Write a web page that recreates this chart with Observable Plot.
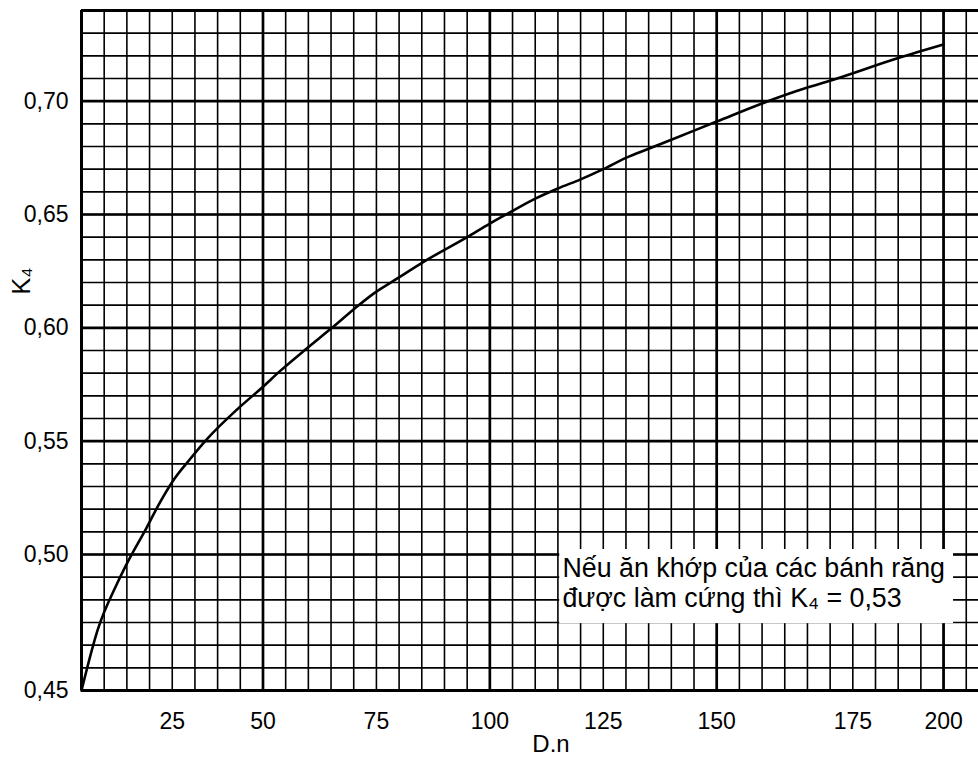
<!DOCTYPE html>
<html>
<head>
<meta charset="utf-8">
<script src="https://cdn.jsdelivr.net/npm/d3@7"></script>
<script src="https://cdn.jsdelivr.net/npm/@observablehq/plot@0.6"></script>
<style>
  html, body { margin: 0; padding: 0; background: #fff; }
  #chart { width: 978px; height: 762px; overflow: hidden; }
</style>
</head>
<body>
<div id="chart"></div>
<script>
// Curve K4 = f(D.n) (grid units: 5 per cell on x, 0.01 per cell on y)
const dn = [10, 13.6, 17.8, 20, 24.4, 27.3, 30, 33.9, 37.7, 44.3, 50, 53.8, 59.7, 65.2, 69.9, 74.3, 79.8, 85.3, 95, 100, 104.5, 110, 115, 120, 125, 130, 135, 145, 150, 160, 170, 175, 190, 200];
const k4 = [0.440, 0.467, 0.487, 0.496, 0.512, 0.523, 0.532, 0.542, 0.551, 0.564, 0.574, 0.581, 0.591, 0.600, 0.608, 0.615, 0.622, 0.629, 0.640, 0.646, 0.651, 0.657, 0.6615, 0.6655, 0.670, 0.675, 0.679, 0.687, 0.691, 0.699, 0.706, 0.709, 0.719, 0.725];

// Tick positions (on the grid) and the labels printed there
const xTickValues = [30, 50, 75, 100, 125, 150, 180, 200];
const xTickLabels = ["25", "50", "75", "100", "125", "150", "175", "200"];
const yTickValues = [0.44, 0.50, 0.55, 0.60, 0.65, 0.70];
const yTickLabels = ["0,45", "0,50", "0,55", "0,60", "0,65", "0,70"];

// Grid: heavy lines
const xMajor = [50, 100, 150, 200];
const yMajor = [0.50, 0.55, 0.60, 0.65, 0.70];

// Axis titles and note
const xTitle = ["D.n"];
const yTitle = ["K₄"];
const noteText = ["Nếu ăn khớp của các bánh răng\nđược làm cứng thì K₄ = 0,53"];
const noteX = [116.0];
const noteY = [0.4876];
const noteBoxX = [115.4, 202.2];
const noteBoxY = [0.4695, 0.5022];

const xDomain = [10, 207.7];
const yDomain = [0.44, 0.74];

const data = dn.map((d, i) => ({dn: d, k4: k4[i]}));
const xMinor = d3.range(0, 40).map(i => xDomain[0] + 5 * i);
const yMinor = d3.range(0, 31).map(i => Math.round((yDomain[0] + 0.01 * i) * 100) / 100);

const chart = Plot.plot({
  width: 978,
  height: 762,
  marginLeft: 81,
  marginRight: 0,
  marginTop: 10,
  marginBottom: 72,
  x: {domain: xDomain},
  y: {domain: yDomain},
  style: {fontFamily: "'Liberation Sans', Arial, sans-serif", fontSize: "23px", color: "#000", background: "#fff"},
  marks: [
    Plot.ruleX(xMinor, {stroke: "#000", strokeWidth: 1.6}),
    Plot.ruleY(yMinor, {stroke: "#000", strokeWidth: 1.6}),
    Plot.ruleX(xMajor, {stroke: "#000", strokeWidth: 2.7}),
    Plot.ruleY(yMajor, {stroke: "#000", strokeWidth: 2.7}),
    Plot.line(data, {x: "dn", y: "k4", stroke: "#000", strokeWidth: 2.6, curve: "monotone-x"}),
    Plot.rect([0], {x1: noteBoxX[0], x2: noteBoxX[1], y1: noteBoxY[0], y2: noteBoxY[1], fill: "#fff"}),
    Plot.text(noteText, {x: noteX, y: noteY, text: d => d, textAnchor: "start", lineAnchor: "middle", lineHeight: 1.12, fontSize: 26.8, fill: "#000"}),
    Plot.ruleX([xDomain[0]], {stroke: "#000", strokeWidth: 3}),
    Plot.ruleY([yDomain[0], yDomain[1]], {stroke: "#000", strokeWidth: 3}),
    Plot.axisX(xTickValues, {tickSize: 0, tickPadding: 22, tickFormat: d => xTickLabels[xTickValues.indexOf(d)], label: null, fontSize: 23}),
    Plot.axisY(yTickValues, {tickSize: 0, tickPadding: 13, tickFormat: d => yTickLabels[yTickValues.indexOf(d)], label: null, fontSize: 23}),
    Plot.text(xTitle, {text: d => d, frameAnchor: "bottom", dx: 21, dy: 61, fontSize: 24}),
    Plot.text(yTitle, {text: d => d, frameAnchor: "left", rotate: -90, dx: -60, dy: -56, fontSize: 25})
  ]
});
document.getElementById("chart").appendChild(chart);
</script>
</body>
</html>
